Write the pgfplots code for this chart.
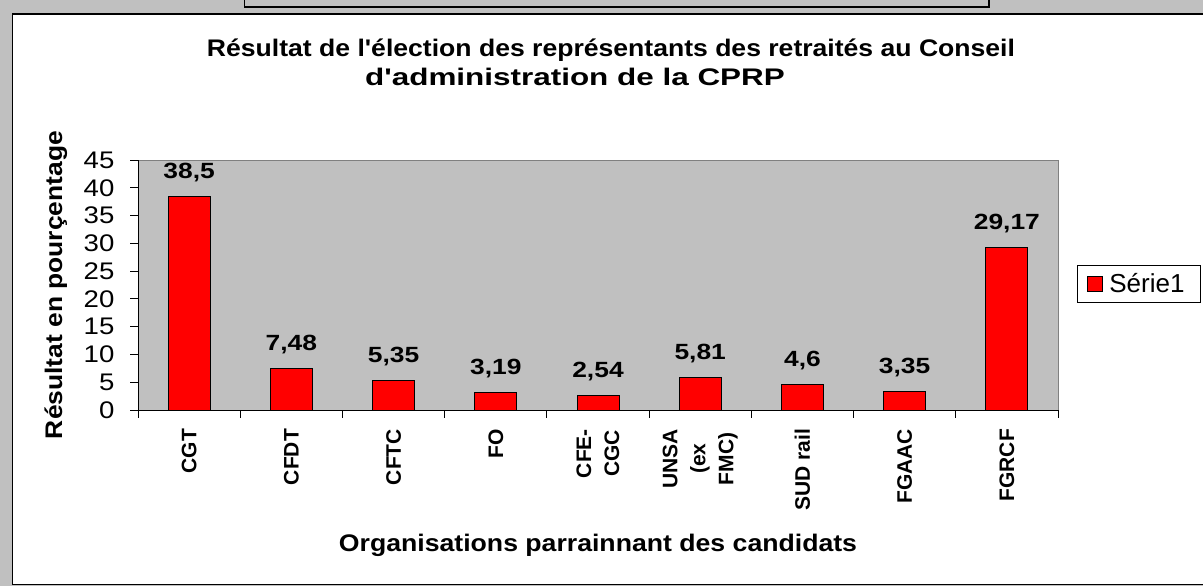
\documentclass[border=0pt]{standalone}
\usepackage{fontspec}
\setmainfont{Liberation Sans}
\usepackage{pgfplots}
\pgfplotsset{compat=1.18}
\definecolor{bggray}{RGB}{192,192,192}
\definecolor{edgegray}{RGB}{128,128,128}
\definecolor{barred}{RGB}{255,0,0}

\pgfplotstableread{
x y label
0 38.5 38,5
1 7.48 7,48
2 5.35 5,35
3 3.19 3,19
4 2.54 2,54
5 5.81 5,81
6 4.6 4,6
7 3.35 3,35
8 29.17 29,17
}\datatable

\begin{document}
\begin{tikzpicture}
\useasboundingbox (0,0) rectangle (1203pt,-586pt);
\fill[bggray] (0,0) rectangle (1203pt,-586pt);
\filldraw[fill=white, draw=black, line width=1.5pt] (12.5pt,-14pt) rectangle (1220pt,-584.5pt);
\filldraw[fill=bggray, draw=black, line width=1.2pt] (244.5pt,10pt) rectangle (989pt,-7pt);
\node[font=\bfseries\fontsize{24}{28}\selectfont, anchor=base, xscale=1.107, inner sep=0pt] at (611pt,-57pt) {Résultat de l\textquotesingle élection des représentants des retraités au Conseil};
\node[font=\bfseries\fontsize{24}{28}\selectfont, anchor=base, xscale=1.31, inner sep=0pt] at (575pt,-85pt) {d\textquotesingle administration de la CPRP};
\begin{axis}[
  at={(138pt,-410pt)}, anchor=south west,
  scale only axis, width=920pt, height=250pt,
  xmin=-0.5, xmax=8.5, ymin=0, ymax=45,
  enlargelimits=false,
  ytick={0,5,10,15,20,25,30,35,40,45},
  xtick={-0.5,0.5,1.5,2.5,3.5,4.5,5.5,6.5,7.5,8.5},
  x tick label as interval,
  xticklabels={CGT,CFDT,CFTC,FO,{CFE-\\CGC},{UNSA\\(ex\\FMC)},SUD rail,FGAAC,FGRCF},
  axis x line*=bottom, axis y line*=left,
  axis line style={-, black, line width=1pt},
  axis background/.style={fill=bggray, draw=edgegray, line width=1pt},
  tick align=outside, major tick length=7.5pt,
  tick style={black, line width=1pt},
  /pgf/number format/assume math mode=true,
  xticklabel shift=8pt,
  yticklabel style={font=\fontsize{24}{24}\selectfont, anchor=east, xshift=-12pt, xscale=1.15},
  xticklabel style={font=\bfseries\fontsize{21}{28}\selectfont, rotate=90, anchor=east, align=center},
  xlabel={Organisations parrainnant des candidats},
  xlabel style={at={(axis description cs:0.5,-0.564)}, anchor=base, font=\bfseries\fontsize{24}{24}\selectfont, xscale=1.11, inner sep=0pt},
  ylabel={Résultat en pourçentage},
  ylabel style={at={(axis description cs:-0.0826,0.5)}, anchor=base, font=\bfseries\fontsize{24}{24}\selectfont, xscale=1.1, inner sep=0pt},
  ybar, bar width=42pt,
  legend style={at={(axis description cs:1.02065,0.504)}, anchor=west, draw=black, fill=white, line width=0.8pt, font=\fontsize{26}{26}\selectfont, inner xsep=10pt, inner ysep=2pt, nodes={inner xsep=6pt, inner ysep=6pt}},
  legend image code/.code={\draw[fill=barred, draw=black, line width=1pt] (0pt,-7.5pt) rectangle (15pt,7.5pt);},
]
\addplot[fill=barred, draw=black, line width=1pt,
  nodes near coords={\pgfplotspointmeta},
  point meta=explicit symbolic,
  every node near coord/.append style={font=\bfseries\fontsize{22}{22}\selectfont, anchor=base, yshift=18pt, xscale=1.2, black}]
  table[x=x, y=y, meta=label] {\datatable};
\addlegendentry{Série1}
\end{axis}
\end{tikzpicture}
\end{document}
